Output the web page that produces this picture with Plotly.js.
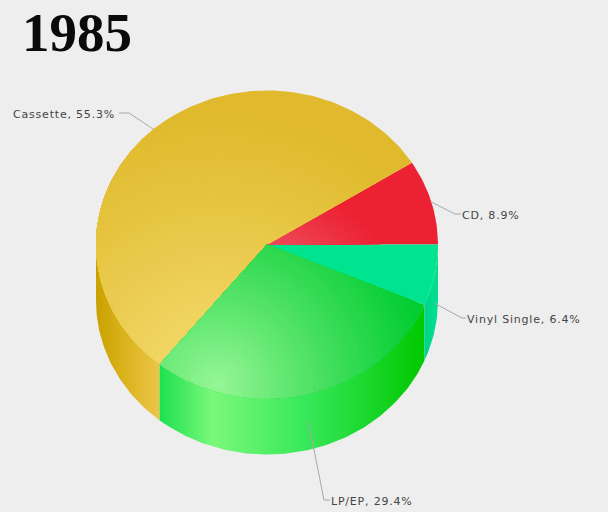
<!DOCTYPE html>
<html><head><meta charset="utf-8">
<script src="https://cdn.plot.ly/plotly-3.0.1.min.js"></script>
<style>html,body{margin:0;padding:0;background:#eeeeee}
.annotation-text{letter-spacing:0.8px}</style></head>
<body><div id="chart" style="width:608px;height:512px"></div>
<script>
const categories = ['CD', 'Cassette', 'LP/EP', 'Vinyl Single'];
const shares = [8.9, 55.3, 29.4, 6.4];
const topColors = ['#ec2233', '#e0ba2c', '#00cc30', '#00e490'];
const lightColors = ['#f0b0c0', '#f6dd74', '#94f594', '#00e490'];
const glowReach = [215, 270, 215, 1];
const wallScales = [
  [[0, '#d81f2e'], [1, '#d81f2e']],
  [[0, '#c9a200'], [0.5, '#dcb420'], [1, '#ebc64a']],
  [[0, '#1ee050'], [0.2, '#7af87a'], [0.55, '#38e85a'], [1, '#00c800']],
  [[0, '#00d488'], [1, '#00e090']]
];
const elbows = [[455, 214], [129, 113], [324, 500], [462, 318]];
const labelEnds = [[461, 214], [119, 113], [330, 500], [466, 318]];

const cx = 267, cy = 244.5, rx = 171, ry = 154, depth = 56;
const gx = 217, gy = 384, layers = 40;
const pt = (deg, dy) => [cx + rx * Math.cos(deg * Math.PI / 180), cy - ry * Math.sin(deg * Math.PI / 180) + (dy || 0)];
const traces = [], annotations = [];

let acc = 0;
const slices = shares.map(v => { const s = { a: acc * 3.6, b: (acc + v) * 3.6 }; acc += v; return s; });

function arc(a, b, dy) {
  const out = [], n = Math.max(4, Math.ceil(Math.abs(b - a)));
  for (let i = 0; i <= n; i++) out.push(pt(a + (b - a) * i / n, dy));
  return out;
}
function fillTrace(points, extra) {
  return Object.assign({
    x: points.map(p => p[0]), y: points.map(p => p[1]), mode: 'lines', fill: 'toself',
    line: { width: 0 }, hoverinfo: 'skip', showlegend: false, type: 'scatter'
  }, extra);
}
function mix(c1, c2, t) {
  const p = c => [1, 3, 5].map(i => parseInt(c.substr(i, 2), 16));
  const a = p(c1), b = p(c2);
  return 'rgb(' + a.map((v, i) => Math.round(v + (b[i] - v) * t)).join(',') + ')';
}
// keep the part of a convex polygon that lies inside another convex polygon
function clip(subject, clipper) {
  let area = 0;
  clipper.forEach((p, i) => { const q = clipper[(i + 1) % clipper.length]; area += p[0] * q[1] - q[0] * p[1]; });
  const sign = area > 0 ? 1 : -1;
  let out = subject;
  for (let i = 0; i < clipper.length && out.length; i++) {
    const A = clipper[i], B = clipper[(i + 1) % clipper.length];
    const side = p => sign * ((B[0] - A[0]) * (p[1] - A[1]) - (B[1] - A[1]) * (p[0] - A[0]));
    const next = [];
    out.forEach((P, j) => {
      const Q = out[(j + 1) % out.length], sp = side(P), sq = side(Q);
      if (sp >= 0) next.push(P);
      if ((sp >= 0) !== (sq >= 0)) {
        const t = sp / (sp - sq);
        next.push([P[0] + (Q[0] - P[0]) * t, P[1] + (Q[1] - P[1]) * t]);
      }
    });
    out = next;
  }
  return out;
}

// side walls: only the part of each slice on the front half
slices.forEach((s, i) => {
  const a = Math.max(s.a, 180), b = s.b;
  if (b <= 180) return;
  const pts = arc(a, b, 0).concat(arc(b, a, depth));
  traces.push(fillTrace(pts, { fillgradient: { type: 'horizontal', colorscale: wallScales[i] } }));
});
// top faces
slices.forEach((s, i) => {
  const pts = [[cx, cy]].concat(arc(s.a, s.b, 0));
  pts.push([cx, cy]);
  traces.push(fillTrace(pts, { fillcolor: topColors[i] }));
});
// soft light on each top face: nested shaded discs cut to the slice
slices.forEach((s, i) => {
  if (glowReach[i] <= 1) return;
  const parts = s.b - s.a > 170 ? [[s.a, (s.a + s.b) / 2], [(s.a + s.b) / 2, s.b]] : [[s.a, s.b]];
  for (let k = layers; k >= 1; k--) {
    const R = glowReach[i] * k / layers, disc = [];
    for (let d = 0; d < 360; d += 2) disc.push([gx + R * Math.cos((d + k * 0.7) * Math.PI / 180), gy + R * Math.sin((d + k * 0.7) * Math.PI / 180)]);
    parts.forEach(part => {
      const shape = clip(disc, [[cx, cy]].concat(arc(part[0], part[1], 0)));
      if (shape.length < 3) return;
      shape.push(shape[0]);
      traces.push(fillTrace(shape, { fillcolor: mix(topColors[i], lightColors[i], Math.pow(1 - (k - 1) / layers, 1.1)) }));
    });
  }
});
// leaders and labels
slices.forEach((s, i) => {
  const mid = (s.a + s.b) / 2;
  const front = mid > 180;
  const anchor = pt(mid, front ? depth / 2 : 0);
  traces.push({
    x: [anchor[0], elbows[i][0], labelEnds[i][0]], y: [anchor[1], elbows[i][1], labelEnds[i][1]],
    mode: 'lines', type: 'scatter', line: { color: '#a8a8a8', width: 1 }, hoverinfo: 'skip', showlegend: false
  });
  const left = labelEnds[i][0] < elbows[i][0];
  annotations.push({
    x: labelEnds[i][0] + (left ? -2 : -1), y: labelEnds[i][1] + 1, xref: 'x', yref: 'y', showarrow: false,
    xanchor: left ? 'right' : 'left', yanchor: 'middle',
    text: categories[i] + ', ' + shares[i] + '%',
    font: { family: 'DejaVu Sans', size: 11, color: '#444444' }
  });
});

Plotly.newPlot('chart', traces, {
  width: 608, height: 512,
  margin: { l: 0, r: 0, t: 0, b: 0 },
  paper_bgcolor: '#eeeeee', plot_bgcolor: '#eeeeee',
  showlegend: false,
  title: {
    text: '<b>1985</b>', x: 22 / 608, xanchor: 'left', y: 0.975, yanchor: 'top',
    font: { family: 'Liberation Serif', size: 55, color: '#0a0a0a' }
  },
  xaxis: { range: [0, 608], visible: false, fixedrange: true },
  yaxis: { range: [512, 0], visible: false, fixedrange: true },
  annotations
}, { displayModeBar: false, staticPlot: true });
</script></body></html>
